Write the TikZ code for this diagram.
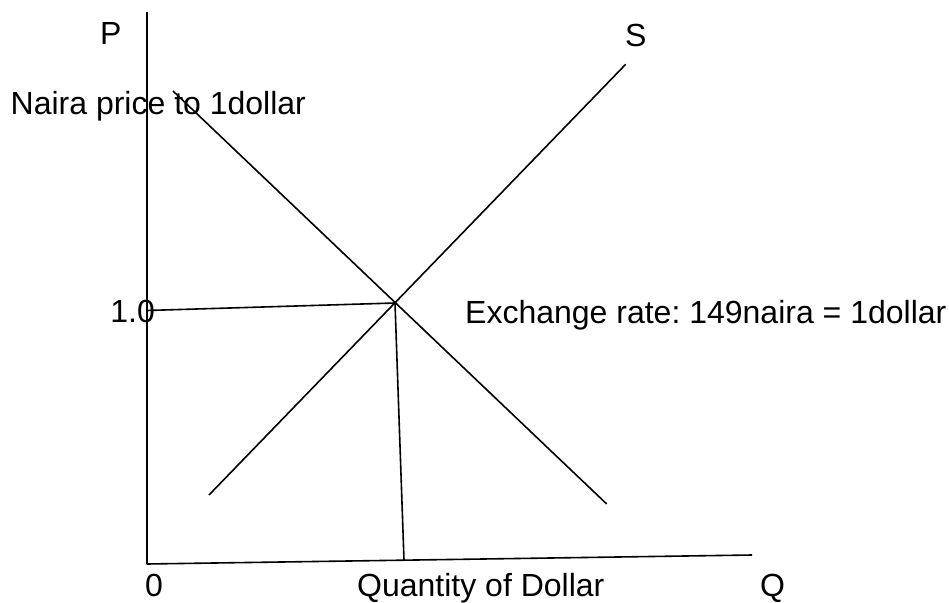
\documentclass[tikz,border=0pt]{standalone}
\usepackage{fontspec}
\setmainfont{Liberation Sans}
\begin{document}
\frenchspacing
\begin{tikzpicture}[x=1pt,y=-1pt,
  curve/.style={line width=1.6pt,black},
  lbl/.style={inner sep=0pt,anchor=base west,font=\fontsize{32}{38}\selectfont}]
\useasboundingbox (0,0) rectangle (949,602);
% key points
\coordinate (ytop) at (146.7,11.7);
\coordinate (orig) at (146.7,564);
\coordinate (xend) at (752,555);
\coordinate (eq) at (395,303);
\coordinate (p1) at (146.7,310.5);
\coordinate (q1) at (404,560.2);
\coordinate (dtop) at (173,91);
\coordinate (dbot) at (606.7,504);
\coordinate (stop) at (625.7,64.3);
\coordinate (sbot) at (209,495);
% labels
\node[lbl] (P) at (100,45) {P};
\node[lbl] (S) at (625,46) {S};
\node[lbl] (naira) at (10.5,114) {Naira price to 1dollar};
\node[lbl,anchor=base east] (one) at (155,322) {1.0};
\node[lbl] (rate) at (465,323) {Exchange rate: 149naira = 1dollar};
\node[lbl] (zero) at (145,596) {0};
\node[lbl] (qd) at (357,596) {Quantity of Dollar};
\node[lbl] (Q) at (760,596) {Q};
% axes
\draw[curve] (ytop) -- (orig);
\draw[curve] (orig) -- (xend);
% demand and supply
\draw[curve] (dtop) -- (dbot);
\draw[curve] (sbot) -- (stop);
% equilibrium guides
\draw[curve] (p1) -- (eq);
\draw[curve] (eq) -- (q1);
\end{tikzpicture}
\end{document}
